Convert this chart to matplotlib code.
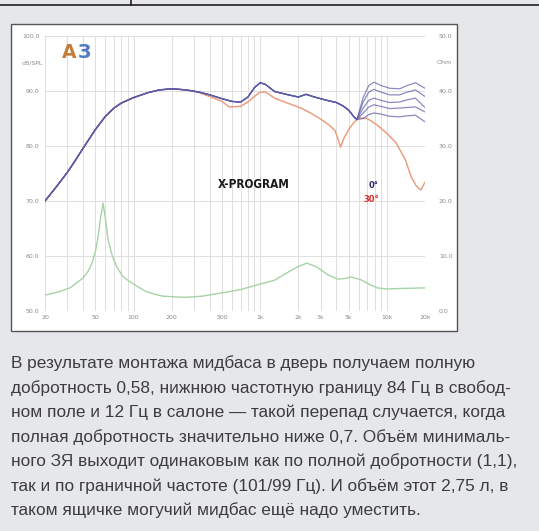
import matplotlib
matplotlib.use("Agg")
import matplotlib.pyplot as plt
from matplotlib.patches import Rectangle
from matplotlib.lines import Line2D

# SPL, shared low part of the 0 deg curves (Hz, dB)
blue_freq = [20, 25, 30, 35, 40, 50, 60, 70, 80, 100, 130, 160, 200, 260, 330, 400,
             500, 600, 700, 800, 900, 1000, 1100, 1300, 1600, 2000, 2300, 2600, 3000,
             3500, 4000, 4500, 5000, 5500, 5800]
blue_spl = [70.0, 72.8, 75.2, 77.5, 79.6, 83.0, 85.4, 86.9, 87.8, 88.8, 89.7, 90.2, 90.4,
            90.2, 89.8, 89.3, 88.6, 88.1, 88.0, 88.9, 90.6, 91.5, 91.2, 89.9, 89.4, 88.9,
            89.4, 89.0, 88.6, 88.2, 87.9, 87.3, 86.5, 85.3, 84.8]

# high part of the five 0 deg curves
tail_freq = [5800, 6500, 7200, 7900, 9000, 10500, 12600, 14500, 16800, 20000]
blue_tails = [
    [84.8, 88.8, 91.0, 91.6, 91.0, 90.5, 90.4, 91.0, 91.5, 90.5],
    [84.8, 88.0, 89.8, 90.3, 89.8, 89.3, 89.3, 89.8, 90.2, 89.0],
    [84.8, 86.9, 88.3, 88.7, 88.3, 87.9, 88.0, 88.4, 88.7, 87.0],
    [84.8, 86.0, 87.1, 87.5, 87.2, 86.8, 86.9, 87.0, 87.1, 86.2],
    [84.8, 85.0, 85.7, 86.0, 85.8, 85.4, 85.3, 85.5, 85.6, 84.4],
]

# SPL, 30 deg
red_freq = [20, 25, 30, 35, 40, 50, 60, 70, 80, 100, 130, 160, 200, 260, 330, 400,
            500, 570, 700, 800, 900, 1000, 1100, 1300, 1600, 2100, 2500, 3000, 3500,
            3900, 4150, 4300, 4600, 5000, 5500, 6000, 7000, 8400, 10000, 11800, 14000,
            15500, 17000, 18500, 20000]
red_spl = [70.0, 72.8, 75.2, 77.5, 79.6, 83.0, 85.4, 86.9, 87.8, 88.8, 89.7, 90.2, 90.4,
           90.2, 89.7, 89.0, 88.1, 87.1, 87.2, 88.0, 89.0, 89.8, 89.8, 88.7, 87.9, 86.9,
           86.0, 84.9, 83.8, 82.8, 81.0, 79.8, 81.5, 83.0, 84.3, 85.1, 85.0, 83.8, 82.3,
           80.6, 77.5, 74.5, 72.8, 72.0, 73.4]

# impedance (Hz, Ohm)
imp_freq = [20, 25, 31.5, 36, 40, 44, 47, 50, 52.5, 55, 57.5, 60, 63, 68, 74, 82, 94,
            110, 127, 150, 170, 220, 264, 350, 500, 700, 930, 1300, 1700, 2000, 2340,
            2800, 3400, 4100, 4700, 5200, 6200, 7200, 8400, 10000, 13000, 20000]
imp_ohm = [2.9, 3.4, 4.2, 5.2, 6.0, 7.3, 8.7, 10.8, 13.5, 17.0, 19.6, 16.8, 12.9, 10.0,
           8.0, 6.3, 5.3, 4.3, 3.5, 3.0, 2.7, 2.55, 2.5, 2.7, 3.3, 3.9, 4.7, 5.6, 7.2,
           8.1, 8.7, 8.0, 6.6, 5.8, 5.9, 6.2, 5.7, 4.9, 4.2, 4.0, 4.1, 4.2]

x_ticks = [20, 50, 100, 200, 500, 1000, 2000, 3000, 5000, 10000, 20000]
x_labels = ["20", "50", "100", "200", "500", "1k", "2k", "3k", "5k", "10k", "20k"]
spl_ticks = [50, 60, 70, 80, 90, 100]
spl_labels = ["50.0", "60.0", "70.0", "80.0", "90.0", "100.0"]
ohm_ticks = [0, 10, 20, 30, 40, 50]
ohm_labels = ["0.0", "10.0", "20.0", "30.0", "40.0", "50.0"]

body_lines = [
    "В результате монтажа мидбаса в дверь получаем полную",
    "добротность 0,58, нижнюю частотную границу 84 Гц в свобод-",
    "ном поле и 12 Гц в салоне — такой перепад случается, когда",
    "полная добротность значительно ниже 0,7. Объём минималь-",
    "ного ЗЯ выходит одинаковым как по полной добротности (1,1),",
    "так и по граничной частоте (101/99 Гц). И объём этот 2,75 л, в",
    "таком ящичке могучий мидбас ещё надо уместить.",
]

W, H = 539, 531
fig = plt.figure(figsize=(W / 100, H / 100), dpi=100, facecolor="#e6e7ea")

def fx(px):
    return px / W

def fy(py):
    return 1 - py / H

# page decorations
fig.add_artist(Line2D([0, 1], [fy(5), fy(5)], color="#222222", lw=1.2))
fig.add_artist(Line2D([fx(131), fx(131)], [fy(5), 1], color="#222222", lw=1.2))
fig.add_artist(Rectangle((fx(11), fy(331)), fx(457) - fx(11), fy(24) - fy(331),
                         facecolor="white", edgecolor="#555555", lw=1.0, zorder=-1))

ax = fig.add_axes([fx(45), fy(311), fx(425) - fx(45), fy(36) - fy(311)])
ax.set_facecolor("none")
ax.set_xscale("log")
ax.set_xlim(20, 20000)
ax.set_ylim(50, 100)

# grid
ax.grid(True, which="both", axis="x", color="#dedede", lw=0.7)
ax.grid(True, which="major", axis="y", color="#dedede", lw=0.7)
for s in ax.spines.values():
    s.set_visible(False)

ax.set_yticks(spl_ticks)
ax.set_yticklabels(spl_labels)
ax.set_xticks(x_ticks)
ax.set_xticklabels(x_labels)
ax.xaxis.set_minor_formatter(plt.NullFormatter())
ax.tick_params(which="both", length=0, labelsize=4.5, labelcolor="#8a8a8a", pad=3)
ax.tick_params(axis="y", pad=4)

# curves
ax.plot(red_freq, red_spl, color="#eb9e80", lw=1.1, zorder=3)
for tail in blue_tails:
    ax.plot(blue_freq + tail_freq[1:], blue_spl + tail[1:], color="#5a5aa8",
            lw=0.9, alpha=0.7, zorder=4)

ax2 = ax.twinx()
ax2.set_ylim(0, 50)
ax2.set_yticks(ohm_ticks)
ax2.set_yticklabels(ohm_labels)
ax2.tick_params(length=0, labelsize=4.5, labelcolor="#8a8a8a", pad=10)
for s in ax2.spines.values():
    s.set_visible(False)
ax2.plot(imp_freq, imp_ohm, color="#a6d2a6", lw=1.0)

# axis unit labels
fig.text(fx(32), fy(63), "dB/SPL", fontsize=4.5, color="#8a8a8a", ha="center", va="center")
fig.text(fx(444), fy(63), "Ohm", fontsize=4.5, color="#8a8a8a", ha="center", va="center")

# logo
fig.text(fx(69), fy(52), "A", fontsize=13.5, fontweight="bold", color="#c47c3c",
         ha="center", va="center")
fig.text(fx(84), fy(52), "З", fontsize=13.5, fontweight="bold", color="#4f7cc0",
         ha="center", va="center")

# labels inside chart
fig.text(fx(254), fy(184), "X-PROGRAM", fontsize=8.5, fontweight="heavy", color="#1a1a1a",
         ha="center", va="center", fontstretch="condensed")
fig.text(fx(374), fy(185), "0°", fontsize=6, fontweight="bold", color="#2a2a6a",
         ha="center", va="center")
fig.text(fx(371), fy(199), "30°", fontsize=6, fontweight="bold", color="#d42a2a",
         ha="center", va="center")

# body text
line_y = [363, 388, 412, 437, 461, 486, 510]
for txt, yy in zip(body_lines, line_y):
    fig.text(fx(11), fy(yy), txt, fontsize=12.4, color="#3d3d3d", ha="left",
             va="center", family="Liberation Sans")

fig.savefig("out.png", dpi=100, facecolor=fig.get_facecolor())
